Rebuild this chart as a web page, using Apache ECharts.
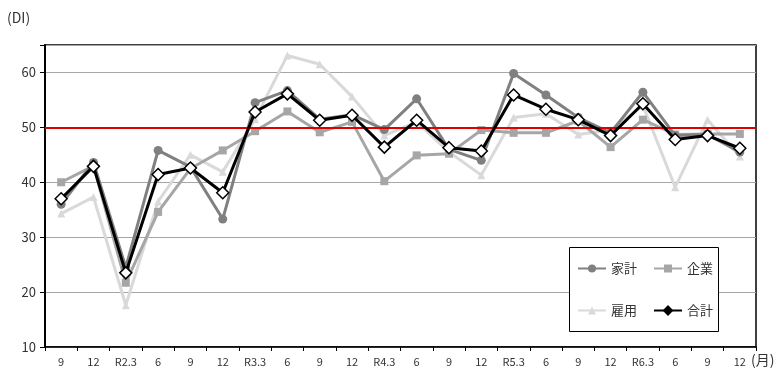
<!DOCTYPE html>
<html><head><meta charset="utf-8">
<script src="https://cdn.jsdelivr.net/npm/echarts@6/dist/echarts.min.js"></script>
<style>html,body{margin:0;padding:0;background:#fff}#c{width:777px;height:375px}</style>
</head><body><div id="c"></div>
<script>
const categories = ['9','12','R2.3','6','9','12','R3.3','6','9','12','R4.3','6','9','12','R5.3','6','9','12','R6.3','6','9','12'];
const kakei  = [36.0, 43.6, 24.5, 45.8, 42.8, 33.3, 54.5, 56.7, 51.5, 52.3, 49.6, 55.2, 46.0, 44.0, 59.8, 55.9, 51.8, 49.0, 56.4, 48.5, 48.7, 45.5];
const kigyo  = [40.0, 43.0, 21.7, 34.6, 42.5, 45.8, 49.3, 52.9, 49.1, 51.0, 40.2, 44.9, 45.2, 49.5, 49.0, 49.0, 51.2, 46.4, 51.4, 48.7, 48.8, 48.8];
const koyo   = [34.3, 37.3, 17.6, 36.5, 45.0, 41.9, 51.5, 63.1, 61.5, 55.6, 48.5, 51.0, 45.5, 41.3, 51.8, 52.5, 48.7, 49.5, 54.0, 39.1, 51.4, 44.7];
const gokei  = [37.0, 42.9, 23.5, 41.4, 42.6, 38.1, 52.8, 56.1, 51.3, 52.2, 46.4, 51.3, 46.3, 45.7, 55.9, 53.3, 51.4, 48.5, 54.3, 47.8, 48.5, 46.2];
const yTicks = [10, 20, 30, 40, 50, 60];
const refLine = 50;

const FONT = '"Noto Sans CJK JP", "Noto Sans", sans-serif';
const chart = echarts.init(document.getElementById('c'), null, {renderer: 'canvas'});
chart.setOption({
  animation: false,
  textStyle: {fontFamily: FONT},
  grid: {left: 45, right: 21, top: 45, bottom: 28, show: true, borderColor: '#000', borderWidth: 1.5, backgroundColor: 'transparent'},
  xAxis: {
    type: 'category', data: categories, boundaryGap: true,
    axisLine: {lineStyle: {color: '#000', width: 1.5}},
    axisTick: {show: true, inside: false, length: 4, lineStyle: {color: '#000'}},
    axisLabel: {color: '#333', fontSize: 11, margin: 9, interval: 0, fontFamily: FONT},
    splitLine: {show: false}
  },
  yAxis: {
    type: 'value', min: 10, max: 65, interval: 10,
    axisLine: {show: true, lineStyle: {color: '#000', width: 2}},
    axisTick: {show: true, length: 5, lineStyle: {color: '#000'}},
    axisLabel: {color: '#333', fontSize: 13, margin: 9, fontFamily: FONT,
      formatter: v => yTicks.indexOf(v) >= 0 ? String(v) : ''},
    splitLine: {show: true, lineStyle: {color: '#a6a6a6', width: 1.2}}
  },
  legend: [
    {data: ['家計', '企業'], left: 577, top: 262, itemWidth: 28, itemHeight: 10, itemGap: 16, padding: 0,
     textStyle: {fontSize: 13, color: '#333', fontFamily: FONT}},
    {data: ['雇用', {name: '合計', itemStyle: {color: '#000', borderColor: '#000'}}], left: 577, top: 304,
     itemWidth: 28, itemHeight: 10, itemGap: 16, padding: 0,
     textStyle: {fontSize: 13, color: '#333', fontFamily: FONT}}
  ],
  graphic: [
    {type: 'rect', left: 569, top: 247, z: 3, shape: {width: 149, height: 84},
     style: {fill: '#fff', stroke: '#000', lineWidth: 1}},
    {type: 'text', left: 7, top: 11, style: {text: '(DI)', fill: '#333', font: '14px ' + FONT}},
    {type: 'text', left: 751, top: 353, style: {text: '(月)', fill: '#333', font: '14px ' + FONT}}
  ],
  series: [
    {name: '雇用', type: 'line', data: koyo, z: 2, symbol: 'triangle', symbolSize: 8,
     lineStyle: {color: '#d9d9d9', width: 3}, itemStyle: {color: '#d9d9d9'}},
    {name: '企業', type: 'line', data: kigyo, z: 3, symbol: 'rect', symbolSize: 8,
     lineStyle: {color: '#a6a6a6', width: 3}, itemStyle: {color: '#a6a6a6'}},
    {name: '家計', type: 'line', data: kakei, z: 4, symbol: 'circle', symbolSize: 9,
     lineStyle: {color: '#808080', width: 3}, itemStyle: {color: '#808080'},
     markLine: {silent: true, symbol: 'none', label: {show: false}, z: 5,
       lineStyle: {color: '#e00000', width: 2, type: 'solid'}, data: [{yAxis: refLine}]}},
    {name: '合計', type: 'line', data: gokei, z: 6, symbol: 'diamond', symbolSize: 12,
     lineStyle: {color: '#000', width: 3}, itemStyle: {color: '#fff', borderColor: '#000', borderWidth: 1.5}}
  ]
});
</script></body></html>
